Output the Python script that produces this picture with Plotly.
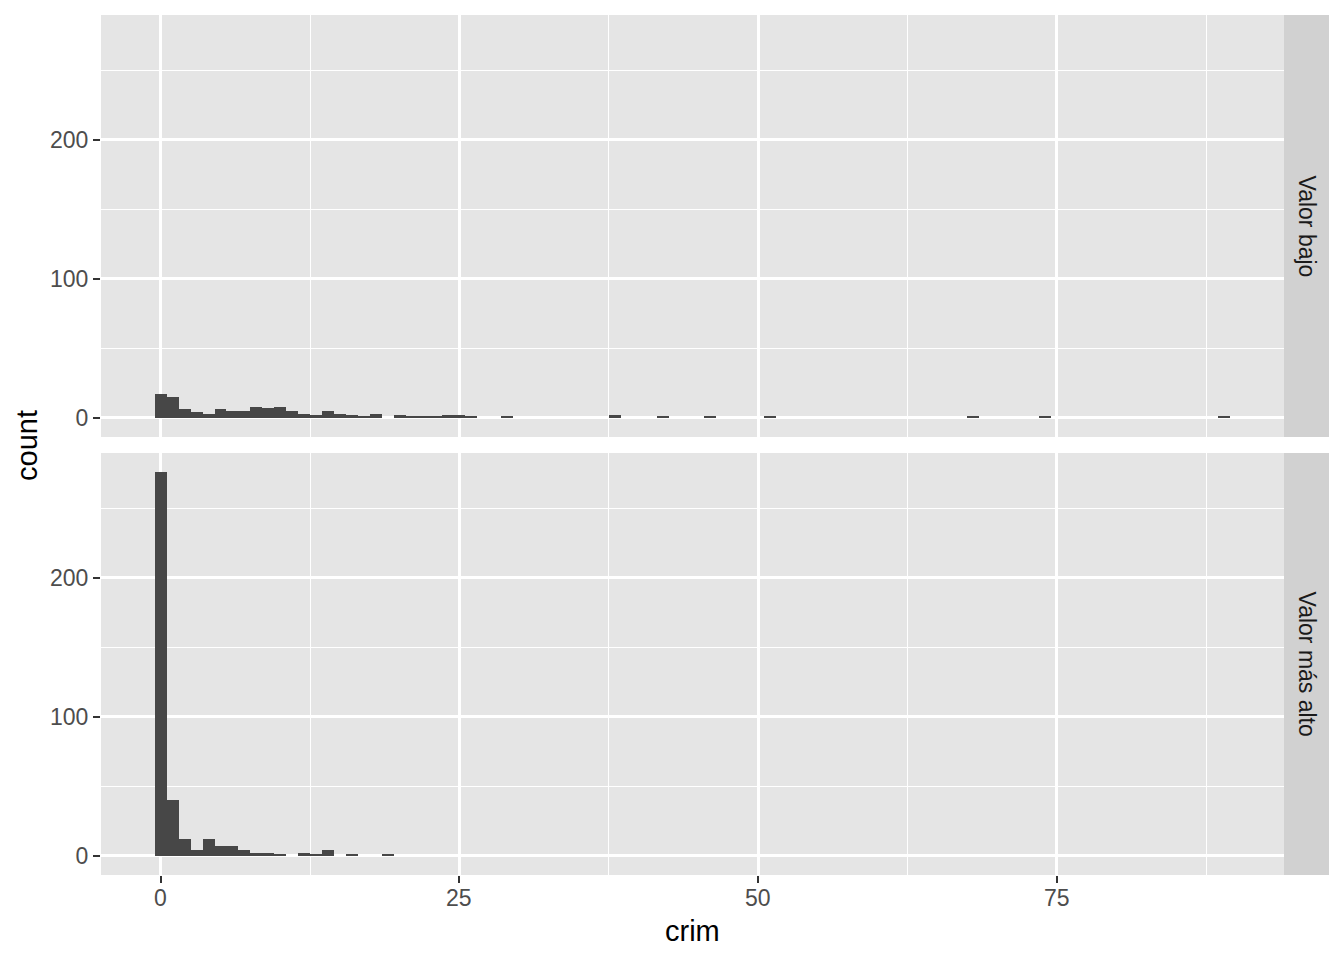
import plotly.graph_objects as go
from plotly.subplots import make_subplots

# Histogram of crim (binwidth = 1, bins centred on integers)
low_x = list(range(0, 27)) + [29, 38, 42, 46, 51, 68, 74, 89]
low_count = [17, 15, 6, 4, 3, 6, 5, 5, 8, 7, 8, 5, 3, 2, 5, 3, 2, 1, 3, 0, 2, 1, 1, 1, 2, 2, 1,
             1, 2, 1, 1, 1, 1, 1, 1]

high_x = list(range(0, 20))
high_count = [276, 40, 12, 4, 12, 7, 7, 4, 2, 2, 1, 0, 2, 1, 4, 0, 1, 0, 0, 1]

facet_labels = ["Valor bajo", "Valor más alto"]
x_ticks = [0, 25, 50, 75]
y_ticks = [0, 100, 200]

OFF = 8  # page body margin
W, H = 1344 - OFF, 960 - OFF
L, R, T, B = 101 - OFF, 1284 - OFF, 15 - OFF, 875 - OFF
gap = 16
vs = gap / (B - T)

fig = make_subplots(rows=2, cols=1, shared_xaxes=True, vertical_spacing=vs)

bar_color = "#474747"
fig.add_trace(go.Bar(x=low_x, y=low_count, width=1, marker=dict(color=bar_color, line=dict(width=0)),
                     showlegend=False), row=1, col=1)
fig.add_trace(go.Bar(x=high_x, y=high_count, width=1, marker=dict(color=bar_color, line=dict(width=0)),
                     showlegend=False), row=2, col=1)

ymax = max(max(low_count), max(high_count))
yr = [-0.05 * ymax, 1.05 * ymax]
xr = [-0.5 - 0.05 * 90, 89.5 + 0.05 * 90]

font_family = "Liberation Sans, Arial, Helvetica, sans-serif"
tick_font = dict(family=font_family, size=23, color="#4D4D4D")

common_x = dict(range=xr, tickvals=x_ticks, showgrid=True, gridcolor="white", gridwidth=2.6,
                zeroline=False, showline=False,
                minor=dict(dtick=12.5, tick0=0, showgrid=True, gridcolor="white", gridwidth=1.3, ticks=""))
common_y = dict(range=yr, tickvals=y_ticks, showgrid=True, gridcolor="white", gridwidth=2.6,
                zeroline=False, showline=False, ticks="outside", ticklen=7, tickwidth=2.4, tickcolor="#333333",
                tickfont=tick_font,
                minor=dict(dtick=50, tick0=0, showgrid=True, gridcolor="white", gridwidth=1.3, ticks=""))

fig.update_xaxes(**common_x)
fig.update_xaxes(ticks="", showticklabels=False, row=1, col=1)
fig.update_xaxes(ticks="outside", ticklen=7, tickwidth=2.4, tickcolor="#333333",
                 showticklabels=False, row=2, col=1)
fig.update_yaxes(**common_y)

pw = R - L
ph = B - T
strip_w = 45 / pw
shapes = []
annotations = []
doms = [(fig.layout.yaxis.domain), (fig.layout.yaxis2.domain)]
for lab, dom in zip(facet_labels, doms):
    shapes.append(dict(type="rect", xref="paper", yref="paper", x0=1, x1=1 + strip_w,
                       y0=dom[0], y1=dom[1], fillcolor="#D1D1D1", line=dict(width=0), layer="below"))
    annotations.append(dict(text=lab, xref="paper", yref="paper", x=1 + strip_w / 2, y=(dom[0] + dom[1]) / 2,
                            showarrow=False, textangle=90, xanchor="center", yanchor="middle",
                            font=dict(family=font_family, size=23, color="#1A1A1A")))

# x tick labels (bottom panel)
for v in x_ticks:
    annotations.append(dict(text=str(v), xref="x2", yref="paper", x=v, y=-(898 - OFF - B) / ph,
                            showarrow=False, xanchor="center", yanchor="middle", font=tick_font))

annotations.append(dict(text="count", xref="paper", yref="paper", x=(27 - OFF - L) / pw, y=0.5,
                        showarrow=False, textangle=-90, xanchor="center", yanchor="middle",
                        font=dict(family=font_family, size=29, color="black")))
annotations.append(dict(text="crim", xref="paper", yref="paper", x=0.5, y=-(931 - OFF - B) / ph,
                        showarrow=False, xanchor="center", yanchor="middle",
                        font=dict(family=font_family, size=29, color="black")))

fig.update_layout(
    width=W, height=H,
    margin=dict(l=L, r=W - R, t=T, b=H - B, pad=0),
    paper_bgcolor="white", plot_bgcolor="#E5E5E5",
    bargap=0, barmode="overlay",
    shapes=shapes, annotations=annotations,
    font=dict(family=font_family),
)

fig.write_html("out.html")
